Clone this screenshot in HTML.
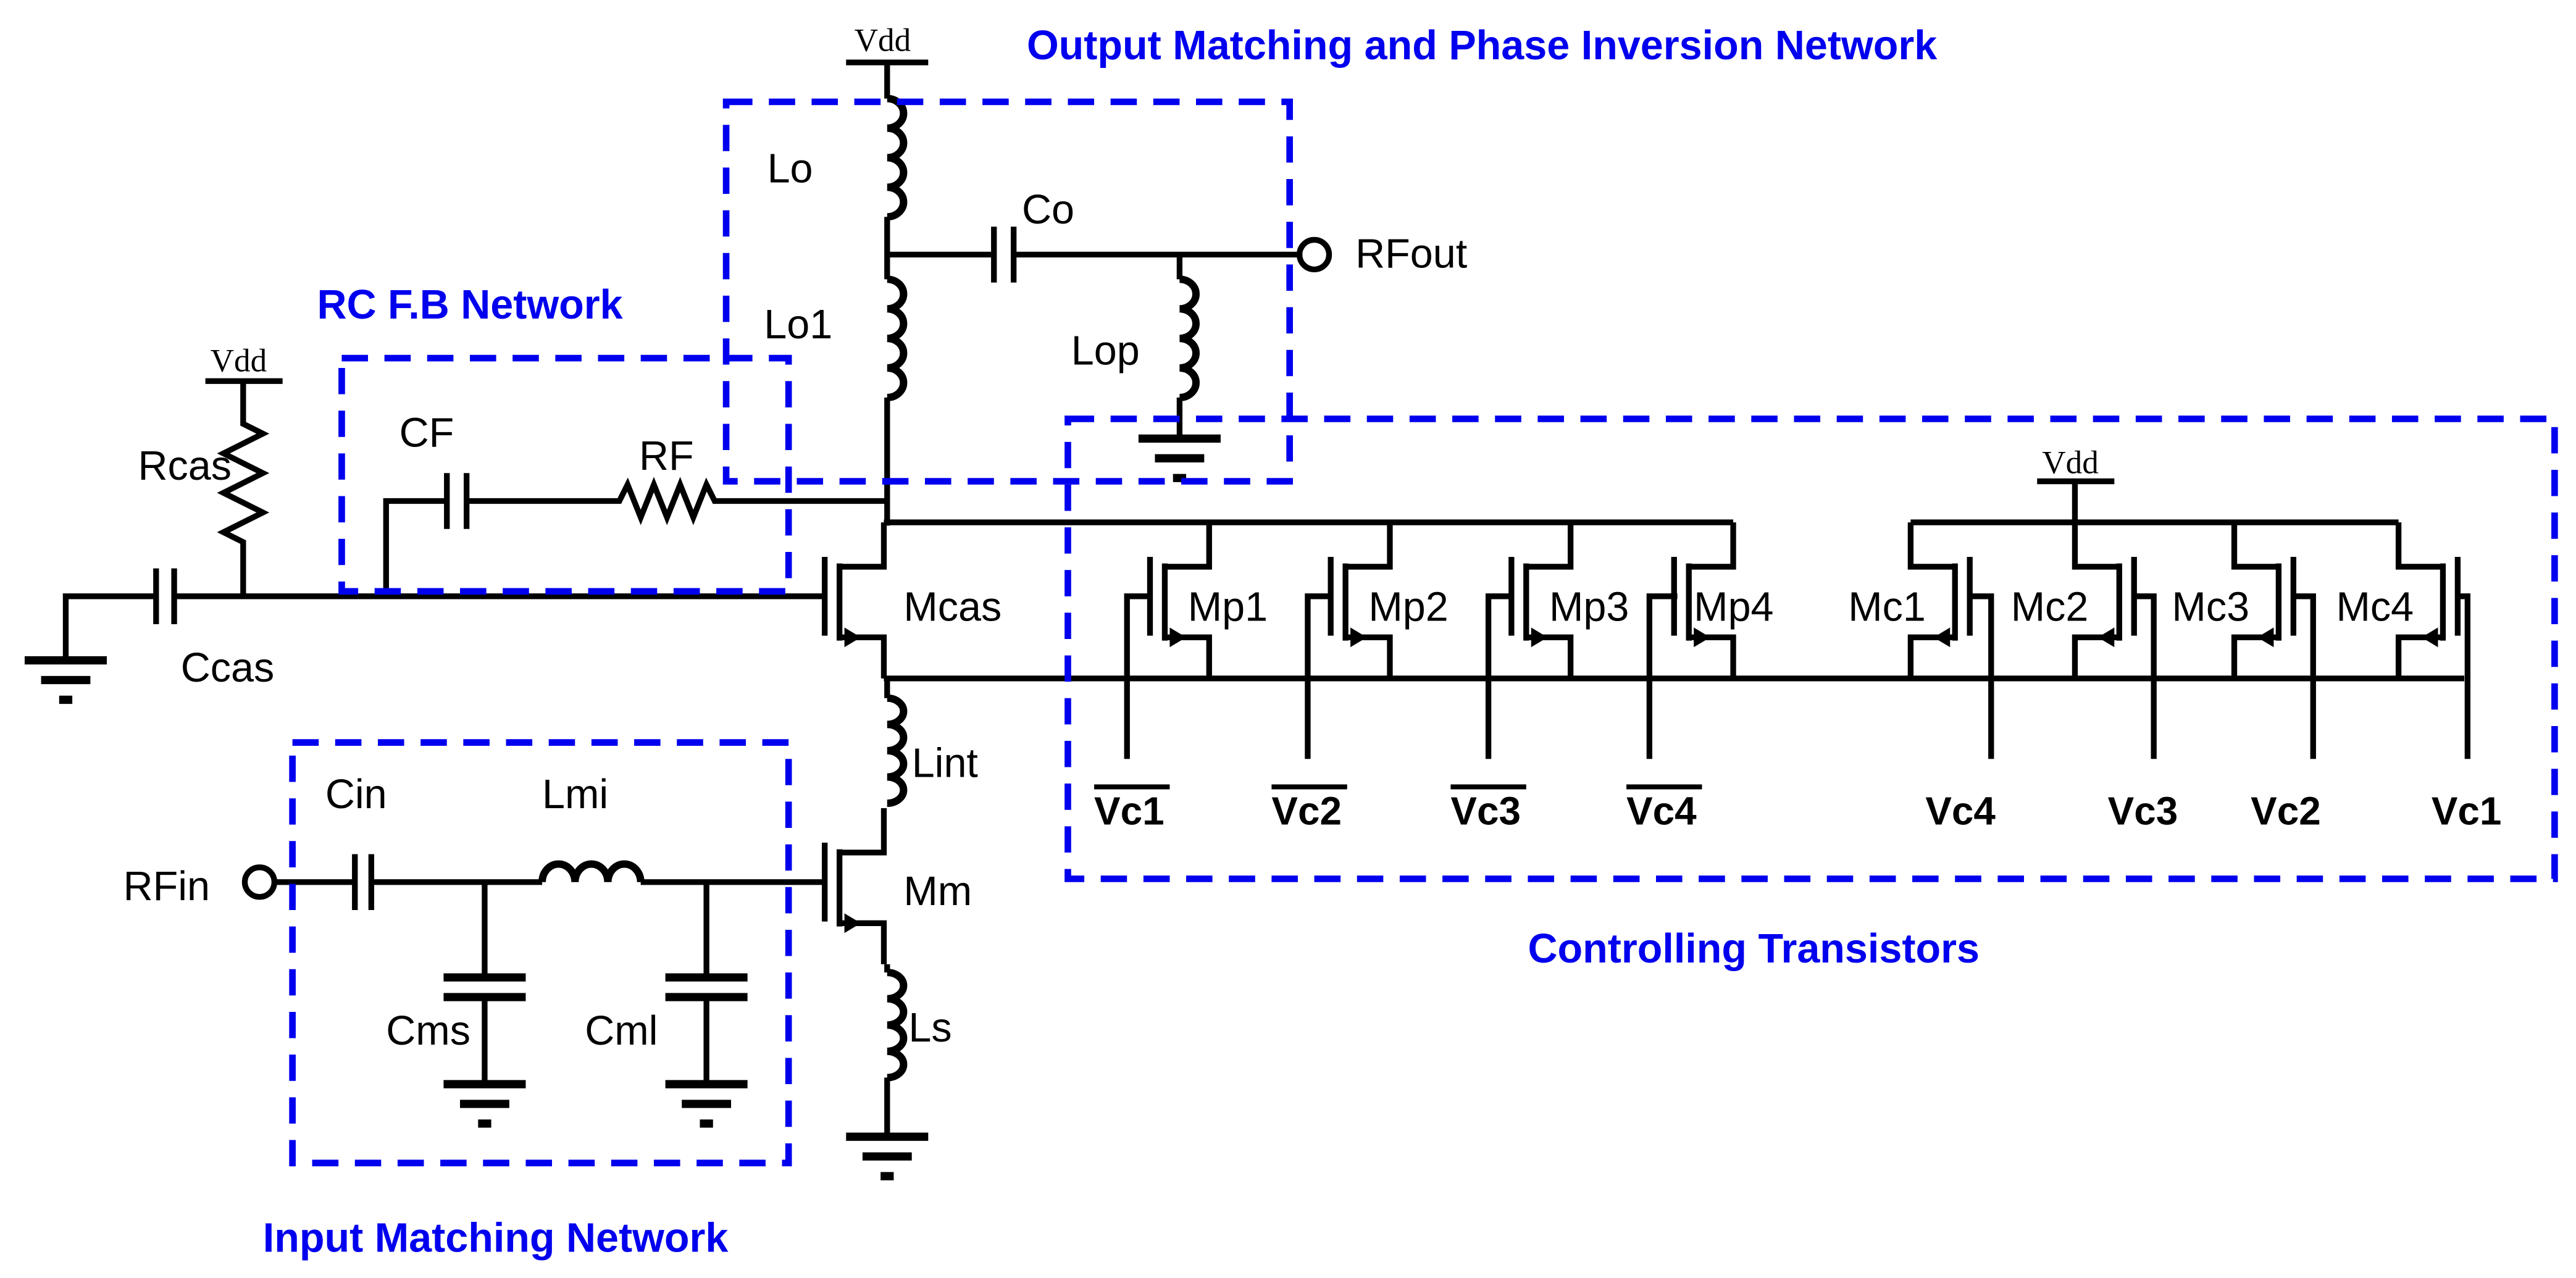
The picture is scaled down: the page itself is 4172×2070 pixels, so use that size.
<!DOCTYPE html>
<html><head><meta charset="utf-8"><style>
html,body{margin:0;padding:0;background:#fff}
svg{display:block}
text{font-family:"Liberation Sans",sans-serif}
</style></head><body>
<svg width="4172" height="2070" viewBox="0 0 1568 778" xmlns="http://www.w3.org/2000/svg">
<defs>
<g id="nm" fill="none" stroke="#000" stroke-width="3.5">
<path d="M0 -24V24 M9 -20V27 M9 -18H36V-45 M9 25H36V50"/>
<polygon points="22,25 12,19 12,31" fill="#000" stroke="none"/>
</g>
<g id="gnd" stroke="#000" stroke-width="5" fill="none">
<path d="M-25 0H25 M-15 12H15 M-4 24H4"/>
</g>
</defs>
<g fill="none" stroke="#000" stroke-width="3.5">
<path d="M515 38H565"/>
<path d="M540 38V60"/>
<g stroke-width="4.5">
<path d="M540 60a10 9 0 0 1 0 18a10 9 0 0 1 0 18a10 9 0 0 1 0 18a10 9 0 0 1 0 18"/>
<path d="M540 170a10 9 0 0 1 0 18a10 9 0 0 1 0 18a10 9 0 0 1 0 18a10 9 0 0 1 0 18"/>
<path d="M718 170a10 9 0 0 1 0 18a10 9 0 0 1 0 18a10 9 0 0 1 0 18a10 9 0 0 1 0 18"/>
<path d="M540 425a10 8 0 0 1 0 16a10 8 0 0 1 0 16a10 8 0 0 1 0 16a10 8 0 0 1 0 16"/>
<path d="M540 592a10 8 0 0 1 0 16a10 8 0 0 1 0 16a10 8 0 0 1 0 16a10 8 0 0 1 0 16"/>
<path d="M330 537a10 11 0 0 1 20 0a10 11 0 0 1 20 0a10 11 0 0 1 20 0"/>
</g>
<path d="M540 132V170"/>
<path d="M540 242V320"/>
<path d="M540 155H605 M605 138V172 M617 138V172 M617 155H791"/>
<circle cx="800" cy="155" r="9"/>
<path d="M718 155V170"/>
<path d="M718 242V265"/>
<path d="M540 305H435 L430 295 L422 315 L414 295 L406 315 L398 295 L390 315 L382 295 L377 305 H284 M284 288V322 M272 288V322 M272 305H235V363"/>
<path d="M40 400V363H95 M95 346V380 M106 346V380 M106 363H502"/>
<path d="M125 232H172 M148 232V258 L160 264 L136 276 L160 288 L136 300 L160 312 L136 324 L148 330 V363"/>
<path d="M538 318H1055 M538 413H1500"/>
<path d="M1163 318H1460 M1263 318V293 M1240 293H1287"/>
<path d="M540 413V425"/>
<path d="M540 587V592"/>
<path d="M540 656V692"/>
<circle cx="158" cy="537" r="9"/>
<path d="M167 537H216 M216 520V554 M226 520V554 M226 537H330"/>
<path d="M390 537H502"/>
<path d="M295 537V595 M295 607V660 M430 537V595 M430 607V660"/>
<path d="M701 363H686V462 M811 363H796V462 M921 363H906V462 M1021 363H1004V462"/>
<path d="M1199 363H1212V462 M1299 363H1311V462 M1396 363H1408V462 M1496 363H1502V462"/>
</g>
<g stroke="#000" stroke-width="5">
<path d="M270 595H320 M270 607H320 M405 595H455 M405 607H455"/>
</g>
<use href="#gnd" x="40" y="402"/>
<use href="#gnd" x="718" y="267"/>
<use href="#gnd" x="540" y="692"/>
<use href="#gnd" x="295" y="660"/>
<use href="#gnd" x="430" y="660"/>
<use href="#nm" x="502" y="363"/>
<use href="#nm" x="502" y="537"/>
<use href="#nm" x="700" y="363"/>
<use href="#nm" x="810" y="363"/>
<use href="#nm" x="920" y="363"/>
<use href="#nm" x="1019" y="363"/>
<g transform="translate(1199,363) scale(-1,1)"><use href="#nm"/></g>
<g transform="translate(1299,363) scale(-1,1)"><use href="#nm"/></g>
<g transform="translate(1396,363) scale(-1,1)"><use href="#nm"/></g>
<g transform="translate(1496,363) scale(-1,1)"><use href="#nm"/></g>
<g fill="none" stroke="#0000ee" stroke-width="4" stroke-dasharray="16,10">
<rect x="442" y="62" width="343" height="231"/>
<rect x="208" y="218" width="272" height="142"/>
<rect x="178" y="452" width="302" height="256"/>
<rect x="650" y="255" width="905" height="280"/>
</g>
<g fill="#0000ee" font-weight="bold" font-size="25">
<text x="625" y="36">Output Matching and Phase Inversion Network</text>
<text x="193" y="194">RC F.B Network</text>
<text x="160" y="762">Input Matching Network</text>
<text x="930" y="586">Controlling Transistors</text>
</g>
<g font-size="25" fill="#000">
<text x="467" y="111">Lo</text>
<text x="622" y="136">Co</text>
<text x="825" y="163">RFout</text>
<text x="465" y="206">Lo1</text>
<text x="652" y="222">Lop</text>
<text x="243" y="272">CF</text>
<text x="389" y="286">RF</text>
<text x="84" y="292">Rcas</text>
<text x="110" y="415">Ccas</text>
<text x="550" y="378">Mcas</text>
<text x="555" y="473">Lint</text>
<text x="550" y="551">Mm</text>
<text x="553" y="634">Ls</text>
<text x="75" y="548">RFin</text>
<text x="198" y="492">Cin</text>
<text x="330" y="492">Lmi</text>
<text x="235" y="636">Cms</text>
<text x="356" y="636">Cml</text>
<text x="723" y="378">Mp1</text>
<text x="833" y="378">Mp2</text>
<text x="943" y="378">Mp3</text>
<text x="1031" y="378">Mp4</text>
<text x="1125" y="378">Mc1</text>
<text x="1224" y="378">Mc2</text>
<text x="1322" y="378">Mc3</text>
<text x="1422" y="378">Mc4</text>
</g>
<g font-size="20" fill="#000">
<text x="520" y="31" style="font-family:'Liberation Serif',serif">Vdd</text>
<text x="128" y="226" style="font-family:'Liberation Serif',serif">Vdd</text>
<text x="1243" y="288" style="font-family:'Liberation Serif',serif">Vdd</text>
</g>
<g font-size="24" font-weight="bold" fill="#000">
<text x="666" y="502">Vc1</text>
<text x="774" y="502">Vc2</text>
<text x="883" y="502">Vc3</text>
<text x="990" y="502">Vc4</text>
<text x="1172" y="502">Vc4</text>
<text x="1283" y="502">Vc3</text>
<text x="1370" y="502">Vc2</text>
<text x="1480" y="502">Vc1</text>
</g>
<g stroke="#000" stroke-width="3">
<path d="M666 479H712 M774 479H820 M883 479H929 M990 479H1036"/>
</g>
</svg>
</body></html>
